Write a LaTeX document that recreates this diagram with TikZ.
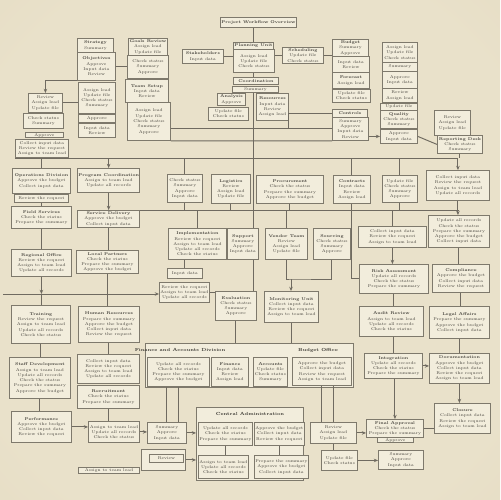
\documentclass[tikz,border=0pt]{standalone}
\usetikzlibrary{arrows.meta}
\definecolor{bgin}{HTML}{E9E1CA}
\definecolor{bgmid}{HTML}{E2D8BD}
\definecolor{bgout}{HTML}{D2C4A1}
\definecolor{boxf}{HTML}{F2EDDC}
\definecolor{boxl}{HTML}{7E796C}
\definecolor{lnc}{HTML}{6F6A60}
\definecolor{txc}{HTML}{45423B}
\pgfdeclareradialshading{vign}{\pgfpoint{0bp}{0bp}}{color(0bp)=(bgin); color(30bp)=(bgin); color(50bp)=(bgmid); color(72bp)=(bgout)}
\newcounter{lc}
\newcommand\nlL{\stepcounter{lc}\ifcase\numexpr\value{lc}-7*((\value{lc}-3)/7)\relax Review the request\or Assign to team lead\or Update all records\or Check the status\or Prepare the summary\or Approve the budget\or Collect input data\fi}
\newcommand\nlS{\stepcounter{lc}\ifcase\numexpr\value{lc}-7*((\value{lc}-3)/7)\relax Review\or Assign lead\or Update file\or Check status\or Summary\or Approve\or Input data\fi}
\newcommand\fillL[1]{\nlL\ifnum#1>1 \\\fillL{\numexpr#1-1\relax}\fi}
\newcommand\fillS[1]{\nlS\ifnum#1>1 \\\fillS{\numexpr#1-1\relax}\fi}
\tikzset{
  box/.style={draw=boxl, fill=boxf, line width=0.5pt, inner sep=0.5pt, align=center,
    font=\fontsize{2.3}{3.0}\selectfont, text=txc},
  ttl/.style={inner sep=0.5pt, font=\fontsize{2.5}{3.0}\selectfont\bfseries, text=txc!80!black},
  conn/.style={draw=lnc, line width=0.55pt},
  arr/.style={conn, -{Stealth[length=2.4pt,width=2pt]}},
}
\newcommand\B[6]{\node[box, anchor=north west, minimum width={(#4-#2)*0.2mm}, minimum height={(#5-#3)*0.2mm}] (#1) at (#2,#3) {#6};}
\begin{document}
\begin{tikzpicture}[x=0.02cm, y=-0.02cm]
\useasboundingbox (0,0) rectangle (500,500);
\shade[shading=vign] (0,0) rectangle (500,500);
\coordinate (sp) at (253,0);
\coordinate (b1a) at (15,158);
\coordinate (b1b) at (458,158);
\coordinate (b2a) at (139,210);
\coordinate (b2b) at (459,210);
\coordinate (b3a) at (3,294);
\coordinate (jn) at (291,279);
% ---------- connectors drawn first (behind boxes) ----------
\draw[conn] (b1a) -- (b1b);
\draw[conn] (b2a) -- (b2b);
\draw[conn] (sp |- 0,27) -- (sp |- 0,42);
\draw[conn] (sp |- 0,72) -- (sp |- 0,77);
\draw[conn] (sp |- 0,92) -- (sp |- 0,228);
% ---------- top cluster ----------
\B{top}{220}{17}{287}{27}{\textbf{Project Workflow Overview}}
\B{hdr}{233}{42}{273}{49}{\textbf{Planning Unit}}
\B{hdrb}{233}{49}{274}{72}{\fillS{3}}
\B{cA}{233}{77}{278}{84}{\textbf{Coordination}}
\B{cB}{232}{86}{278}{92}{\fillS{1}}
\B{cC}{217}{93}{245}{105}{\textbf{Analysis}\\\fillS{1}}
\B{cD}{256}{93}{288}{120}{\textbf{Resources}\\\fillS{3}}
\B{cE}{208}{107}{248}{120}{\fillS{2}}
\B{A1}{77}{38}{113}{52}{\textbf{Strategy}\\\fillS{1}}
\B{A2}{77}{52}{115}{80}{\textbf{Objectives}\\\fillS{3}}
\B{A3}{78}{82}{115}{113}{\fillS{4}}
\B{A4}{78}{114}{115}{122}{\fillS{1}}
\B{A5}{78}{123}{115}{137}{\fillS{2}}
\B{B1}{128}{38}{167}{55}{\textbf{Goals Review}\\\fillS{2}}
\B{B2}{127}{55}{168}{78}{\fillS{3}}
\B{B3}{125}{79}{168}{102}{\textbf{Team Setup}\\\fillS{2}}
\B{B4}{127}{102}{170}{140}{\fillS{5}}
\B{C}{182}{49}{223}{63}{\textbf{Stakeholders}\\\fillS{1}}
\B{D1}{28}{93}{62}{112}{\fillS{3}}
\B{D2}{23}{113}{63}{128}{\fillS{2}}
\B{D3}{25}{132}{63}{137}{\fillS{1}}
\B{D4}{15}{139}{68}{157}{\fillL{3}}
\B{F}{282}{47}{323}{63}{\textbf{Scheduling}\\\fillS{2}}
\B{E1}{332}{39}{368}{56}{\textbf{Budget}\\\fillS{2}}
\B{E2}{332}{56}{369}{72}{\fillS{2}}
\B{E3}{332}{72}{369}{88}{\textbf{Forecast}\\\fillS{1}}
\B{E4}{332}{89}{370}{102}{\fillS{2}}
\B{E5}{332}{109}{367}{117}{\textbf{Controls}}
\B{E6}{332}{117}{368}{140}{\fillS{4}}
\B{G1}{382}{42}{417}{62}{\fillS{3}}
\B{G2}{382}{62}{417}{71}{\fillS{1}}
\B{G3}{382}{71}{417}{88}{\fillS{2}}
\B{G4}{382}{88}{417}{102}{\fillS{2}}
\B{G5}{380}{103}{417}{110}{\fillS{1}}
\B{G6}{380}{110}{417}{128}{\textbf{Quality}\\\fillS{2}}
\B{G7}{380}{129}{417}{143}{\fillS{2}}
\B{H1}{434}{110}{470}{135}{\fillS{3}}
\B{H2}{437}{135}{482}{153}{\textbf{Reporting Desk}\\\fillS{2}}
% ---------- middle ----------
\B{I1}{12}{168}{70}{193}{\textbf{Operations Division}\\\fillL{2}}
\B{I2}{14}{194}{68}{202}{\fillL{1}}
\B{J1}{77}{168}{139}{192}{\textbf{Program Coordination}\\\fillL{2}}
\B{K}{167}{174}{202}{202}{\fillS{4}}
\B{L}{211}{174}{250}{203}{\textbf{Logistics}\\\fillS{3}}
\B{M}{256}{175}{323}{203}{\textbf{Procurement}\\\fillL{3}}
\B{N2}{333}{175}{370}{203}{\textbf{Contracts}\\\fillS{3}}
\B{N3}{382}{175}{417}{202}{\fillS{4}}
\B{U0}{426}{170}{489}{200}{\fillL{4}}
\B{N}{11}{206}{71}{228}{\textbf{Field Services}\\\fillL{2}}
\B{O}{77}{210}{139}{227}{\textbf{Service Delivery}\\\fillL{2}}
\B{P}{168}{228}{226}{259}{\textbf{Implementation}\\\fillL{4}}
\B{Q}{227}{228}{258}{259}{\textbf{Support}\\\fillS{3}}
\B{R}{265}{228}{307}{259}{\textbf{Vendor Team}\\\fillS{3}}
\B{S}{313}{228}{350}{259}{\textbf{Sourcing}\\\fillS{3}}
\B{T}{358}{226}{426}{247}{\fillL{3}}
\B{U}{428}{215}{489}{247}{\fillL{5}}
\B{W}{11}{249}{71}{276}{\textbf{Regional Office}\\\fillL{3}}
\B{X}{76}{250}{138}{273}{\textbf{Local Partners}\\\fillL{3}}
\B{V}{167}{268}{202}{278}{\fillS{1}}
\B{Y}{159}{282}{208}{302}{\fillL{3}}
\B{Z}{215}{291}{256}{320}{\textbf{Evaluation}\\\fillS{3}}
\B{Z2}{264}{291}{318}{322}{\textbf{Monitoring Unit}\\\fillL{3}}
\B{AA}{359}{264}{428}{293}{\textbf{Risk Assessment}\\\fillL{3}}
\B{BB}{432}{264}{489}{292}{\textbf{Compliance}\\\fillL{3}}
\B{CC}{359}{306}{423}{336}{\textbf{Audit Review}\\\fillL{3}}
\B{DD}{429}{306}{489}{338}{\textbf{Legal Affairs}\\\fillL{3}}
% ---------- bottom ----------
\B{EE}{11}{305}{70}{343}{\textbf{Training}\\\fillL{4}}
\B{FF}{78}{306}{139}{342}{\textbf{Human Resources}\\\fillL{4}}
\B{GG}{9}{357}{70}{398}{\textbf{Staff Development}\\\fillL{5}}
\B{HH}{77}{354}{139}{383}{\fillL{4}}
\B{HH2}{77}{385}{139}{408}{\textbf{Recruitment}\\\fillL{2}}
\B{JJ}{11}{411}{71}{442}{\textbf{Performance}\\\fillL{3}}
\B{KK}{88}{421}{139}{442}{\fillL{3}}
\B{LL}{147}{422}{186}{443}{\fillS{3}}
\B{MM}{141}{449}{185}{470}{}
\B{MMi}{149}{454}{183}{462}{\fillS{1}}
\B{NN}{78}{467}{139}{473}{\fillL{1}}
\B{II}{145}{343}{353}{387}{}
\node[ttl] (IIt1) at (180,350) {Finance and Accounts Division};
\node[ttl] (IIt2) at (318,350) {Budget Office};
\B{IIa}{147}{357}{209}{386}{\fillL{4}}
\B{IIb}{211}{357}{248}{386}{\textbf{Finance}\\\fillS{3}}
\B{IIc}{253}{357}{287}{386}{\textbf{Accounts}\\\fillS{3}}
\B{IId}{292}{357}{351}{385}{\fillL{4}}
\B{OO}{196}{407}{303}{480}{}
\node[ttl] (OOt) at (250,414) {Central Administration};
\B{OOa}{198}{422}{246}{445}{\fillL{3}}
\B{OOb}{254}{422}{301}{445}{\fillL{3}}
\B{OOc}{198}{455}{246}{478}{\fillL{3}}
\B{OOd}{254}{455}{301}{478}{\fillL{3}}
\B{PP}{310}{422}{356}{443}{\fillS{3}}
\B{QQ}{366}{419}{423}{437}{\textbf{Final Approval}\\\fillL{2}}
\B{QQ2}{377}{437}{413}{442}{\fillS{1}}
\B{RR}{434}{403}{490}{433}{\textbf{Closure}\\\fillL{3}}
\B{SS}{364}{353}{422}{378}{\textbf{Integration}\\\fillL{3}}
\B{TT}{429}{353}{489}{383}{\textbf{Documentation}\\\fillL{4}}
\B{UU}{321}{450}{357}{470}{\fillS{2}}
\B{VV}{378}{450}{423}{469}{\fillS{3}}
% ---------- connectors between boxes ----------
\draw[conn] (C.east) -- (C.east -| hdrb.west);
\draw[conn] (F.west -| hdrb.east) -- (F.west);
\draw[conn] (F.east) -- (F.east -| E1.west);
\draw[conn] (A2.east) -- (A2.east -| B2.west);
\draw[arr] (A2.south west) -| (D1.north);
\draw[conn] (D1.east) -- (D1.east -| A3.west);
\draw[conn] (E6.west -| B4.east) -- (E6.west);
\draw[conn] (B4.south east) -- (E6.south west);
\draw[conn] (E5.west) -| (cD.east |- E6.west);
\draw[arr] (G7.west -| E6.east) -- (G7.west);
\draw[conn] (G7.east) -- (H2.west);
\draw[conn] (H2.south) -- (H2.south |- b1b);
\draw[conn] (b1a -| I1.north) -- (I1.north);
\draw[arr] (b1a -| J1.north) -- (J1.north);
\draw[conn] (b1a -| K.north) -- (K.north);
\draw[conn] (b1a -| N2.north) -- (N2.north);
\draw[conn] (b1a -| N3.north) -- (N3.north);
\draw[arr] (b1a -| U0.north) -- (U0.north);
\draw[conn] (K.south) -- (K.south |- b2a);
\draw[conn] (L.south) -- (L.south |- b2a);
\draw[conn] (M.south) -- (M.south |- b2a);
\draw[conn] (N3.south) -- (N3.south |- b2a);
\draw[conn] (b2a -| P.north) -- (P.north);
\draw[conn] (b2a -| R.north) -- (R.north);
\draw[conn] (b2a -| T.north) -- (T.north);
\draw[arr] (U0.south) -- (U0.south |- U.north);
\draw[conn] (N2.south) |- (AA.west);
\draw[conn] (I2.south) -- (I2.south |- N.north);
\draw[arr] (J1.south) -- (J1.south |- O.north);
\draw[conn] (N.south) -- (N.south |- W.north);
\draw[conn] (O.south) -- (O.south |- X.north);
\draw[arr] (b3a) -- (b3a -| Y.west);
\draw[arr] (W.south) -- (W.south |- b3a);
\draw[conn] (X.south) -- (X.south |- b3a);
\draw[conn] (W.south |- b3a) -- (W.south |- EE.north);
\draw[conn] (X.south |- b3a) -- (X.south |- FF.north);
\draw[conn] (V.north |- P.south) -- (V.north);
\draw[conn] (sp |- Q.south) -- (sp |- Z.north);
\draw[conn] (R.south) |- (jn) -| (S.south);
\draw[arr] (jn) -- (jn |- Z2.north);
\draw[conn] (Y.east) -- (Y.east -| Z.west);
\draw[arr] (T.south) -- (T.south |- AA.north);
\draw[conn] (AA.south) -- (AA.south |- CC.north);
\draw[conn] (U.south) -- (U.south |- BB.north);
\draw[conn] (BB.south) -- (BB.south |- DD.north);
\draw[conn] (CC.south -| SS.north) -- (SS.north);
\draw[conn] (DD.south) -- (DD.south |- TT.north);
\draw[arr] (TT.south) -- (TT.south |- RR.north);
\draw[arr] (SS.south -| QQ.north) -- (QQ.north);
\draw[arr] (SS.east) -- (SS.east -| TT.west);
\draw[arr] (PP.east) -- (PP.east -| QQ.west);
\draw[conn] (QQ.east) -- (QQ.east -| RR.west);
\draw[arr] (UU.east) -- (UU.east -| VV.west);
\draw[conn] (PP.south) -- (PP.south |- UU.north);
\draw[conn] (IId.south) -- (IId.south |- PP.north);
\draw[conn] (PP.north |- IId.south) -- (PP.north);
\draw[conn] (IIa.south) -- (IIa.south |- LL.north);
\draw[conn] (LL.north |- IIa.south) -- (LL.north);
\draw[arr] (LL.east) -- (LL.east -| OO.west);
\draw[arr] (MM.east) -- (MM.east -| OO.west);
\draw[conn] (Z2.south) -- (Z2.south |- II.north);
\draw[conn] (Z.south) -- (Z.south |- II.north);
\draw[conn] (EE.south) -- (EE.south |- GG.north);
\draw[conn] (GG.south) -- (GG.south |- JJ.north);
\draw[conn] (FF.south) -- (FF.south |- HH.north);
\draw[conn] (HH2.south) -- (HH2.south |- KK.north);
\draw[arr] (JJ.east) -- (JJ.east -| KK.west);
\draw[arr] (KK.east) -- (KK.east -| LL.west);
\draw[conn] (OOa.south) -- (OOa.south |- OOc.north);
\draw[conn] (OOb.south) -- (OOb.south |- OOd.north);
\end{tikzpicture}
\end{document}
